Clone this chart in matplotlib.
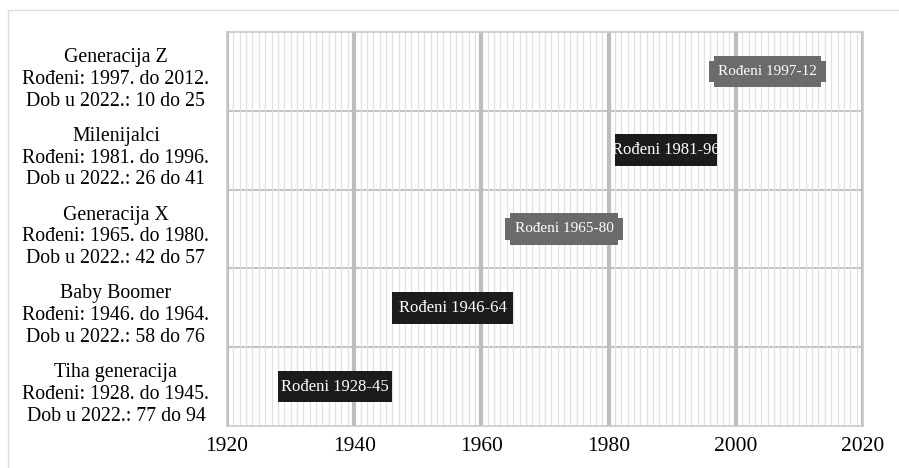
import matplotlib.pyplot as plt
import matplotlib.transforms as mtransforms
from matplotlib.path import Path
from matplotlib.patches import Rectangle

plt.rcParams['font.family'] = ['Liberation Serif', 'DejaVu Serif']

# generations, bottom to top
labels = [
    "Tiha generacija\nRođeni: 1928. do 1945.\nDob u 2022.: 77 do 94",
    "Baby Boomer\nRođeni: 1946. do 1964.\nDob u 2022.: 58 do 76",
    "Generacija X\nRođeni: 1965. do 1980.\nDob u 2022.: 42 do 57",
    "Milenijalci\nRođeni: 1981. do 1996.\nDob u 2022.: 26 do 41",
    "Generacija Z\nRođeni: 1997. do 2012.\nDob u 2022.: 10 do 25",
]
start = [1928, 1946, 1965, 1981, 1997]
end = [1945, 1964, 1980, 1996, 2012]
bar_text = ["Rođeni 1928-45", "Rođeni 1946-64", "Rođeni 1965-80", "Rođeni 1981-96", "Rođeni 1997-12"]
style = ["bar", "bar", "tag", "bar", "tag"]
xticks = [1920, 1940, 1960, 1980, 2000, 2020]


def notched(x0, y0, width, height, mutation_size):
    # padded box with small square notches cut out of the corners
    px, py, n = 0.6 * mutation_size, 0.6 * mutation_size, 5.0
    x0, y0 = x0 - px, y0 - py
    x1, y1 = x0 + width + 2 * px, y0 + height + 2 * py
    verts = [(x0 + n, y0), (x1 - n, y0), (x1 - n, y0 + n), (x1, y0 + n),
             (x1, y1 - n), (x1 - n, y1 - n), (x1 - n, y1), (x0 + n, y1),
             (x0 + n, y1 - n), (x0, y1 - n), (x0, y0 + n), (x0 + n, y0 + n),
             (x0 + n, y0)]
    codes = [Path.MOVETO] + [Path.LINETO] * 11 + [Path.CLOSEPOLY]
    return Path(verts, codes)


fig = plt.figure(figsize=(8.99, 4.68), dpi=100)
fig.patches.append(Rectangle((8 / 899, -0.01), 1.0, 1 - 10 / 468 + 0.01, transform=fig.transFigure,
                             fill=False, edgecolor='#dddddd', linewidth=1))
ax = fig.add_axes([227 / 899, 42 / 468, 636 / 899, 394 / 468])

ypos = list(range(len(labels)))
h = 0.4
for i in ypos:
    mid = (start[i] + end[i] + 1) / 2
    if style[i] == "bar":
        bars = ax.barh(i, end[i] - start[i] + 1, left=start[i], height=h, color='#1c1c1c', zorder=3)
        t = ax.text(mid, i, bar_text[i], ha='center', va='center', color='white', fontsize=12, zorder=4)
        t.set_clip_path(bars[0])
    else:
        ax.text(mid, i, bar_text[i], ha='center', va='center', color='white', fontsize=11, zorder=4,
                bbox=dict(boxstyle=notched, facecolor='#6b6b6b', edgecolor='none'))

ax.set_xlim(1920, 2020)
ax.set_ylim(-0.5, len(labels) - 0.5)

# year gridlines
ax.set_xticks(xticks)
ax.set_xticks(range(1920, 2021), minor=True)
ax.grid(axis='x', which='minor', color='#e0e0e0', linewidth=0.9, zorder=0)
ax.grid(axis='x', which='major', color='#bdbdbd', linewidth=3, zorder=1)
for b in [y + 0.5 for y in ypos[:-1]]:
    ax.axhline(b, color='#c4c4c4', linewidth=1.5, zorder=1)

ax.set_yticks(ypos)
ax.set_yticklabels(labels, ha='center', multialignment='center', fontsize=14.3, linespacing=1.2)
ax.tick_params(axis='y', length=0, pad=80)
ax.tick_params(axis='x', which='both', length=0, labelsize=15.5, pad=8)
shift = mtransforms.ScaledTranslation(0, -4 / 100, fig.dpi_scale_trans)
for lab in ax.get_yticklabels():
    lab.set_transform(lab.get_transform() + shift)

for s in ax.spines.values():
    s.set_color('#c8c8c8')
    s.set_linewidth(1.2)

fig.savefig('out.png', dpi=100)
